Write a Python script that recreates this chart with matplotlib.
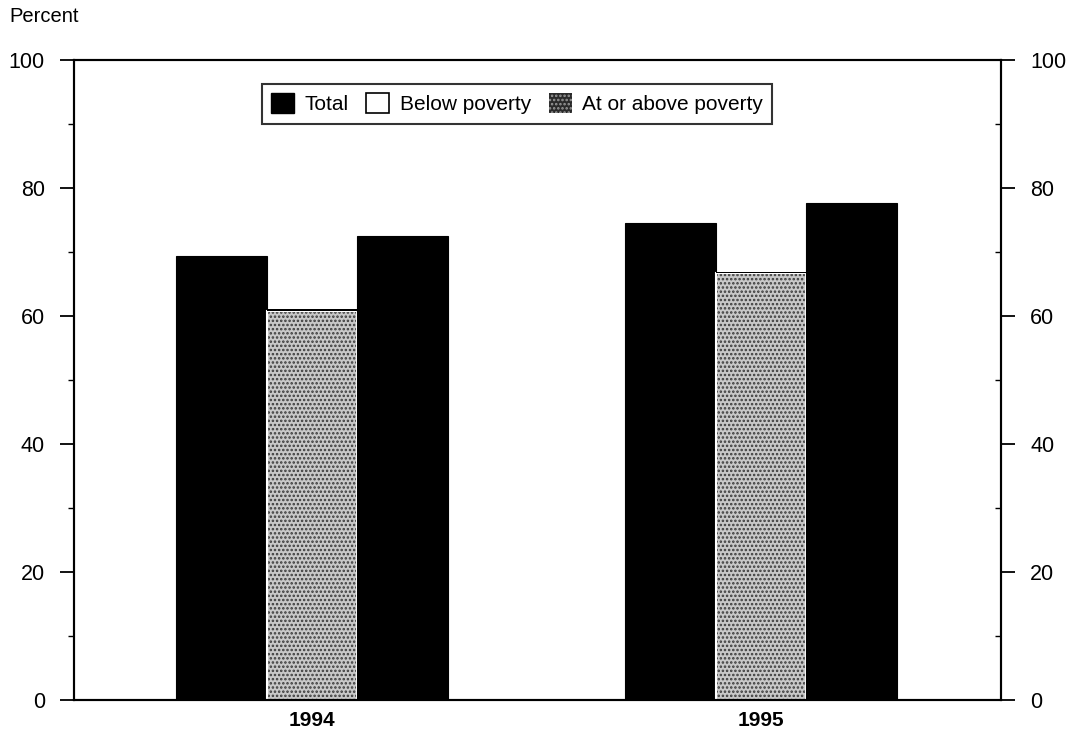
import numpy as np
import matplotlib
matplotlib.use('Agg')
import matplotlib.pyplot as plt
from matplotlib.patches import Patch
from matplotlib.ticker import MultipleLocator

plt.rcParams['font.family'] = ['Liberation Sans', 'DejaVu Sans']
plt.rcParams['hatch.linewidth'] = 1.2

years = ['1994', '1995']
series = ['Total', 'Below poverty', 'At or above poverty']
total = [69.4, 74.5]
below = [60.8, 66.7]
above = [72.5, 77.7]

fig = plt.figure(figsize=(10.69, 7.37), dpi=100)
ax = fig.add_axes([0.0692, 0.0502, 0.8672, 0.8684])

x = np.arange(len(years))
w = 0.2016

ax.bar(x - w, total, w, color='black', edgecolor='black', linewidth=0.8)
ax.bar(x, below, w, color='#c8c8c8', edgecolor='#3a3a3a', hatch='....', linewidth=0)
ax.bar(x, below, w, fill=False, edgecolor='white', linewidth=1.5)
ax.bar(x, [0.25] * 2, w, bottom=below, color='black', linewidth=0)
ax.bar(x + w, above, w, color='black', edgecolor='black', linewidth=0.8)

ax.set_xlim(-0.530, 1.534)
ax.set_ylim(0, 100)
ax.set_xticks(x)
ax.set_xticklabels(years, fontsize=15, fontweight='bold')
ax.tick_params(axis='x', length=0, pad=8)

ax2 = ax.twinx()
for a in (ax, ax2):
    a.set_ylim(0, 100)
    a.yaxis.set_major_locator(MultipleLocator(20))
    a.yaxis.set_minor_locator(MultipleLocator(10))
    for s in a.spines.values():
        s.set_linewidth(1.5)

ax.tick_params(axis='y', which='major', direction='out', length=10, width=1.3,
               labelsize=15.5, pad=11)
ax.tick_params(axis='y', which='minor', direction='out', length=4.5, width=1.0)
ax2.tick_params(axis='y', which='major', direction='out', length=10, width=1.3,
                labelsize=15.5, pad=11)
ax2.tick_params(axis='y', which='minor', direction='in', length=4, width=1.0)

fig.text(0.009, 0.978, 'Percent', fontsize=14.5, va='center', ha='left')

handles = [
    Patch(facecolor='black', edgecolor='black'),
    Patch(facecolor='white', edgecolor='black', linewidth=1.2),
    Patch(facecolor='#2a2a2a', edgecolor='#9a9a9a', hatch='....', linewidth=0),
]
leg = ax2.legend(handles, series, loc='upper center', bbox_to_anchor=(0.478, 0.963), ncol=3,
                 fontsize=15, frameon=True, fancybox=False, edgecolor='black',
                 handlelength=1.1, handleheight=1.1, handletextpad=0.5, columnspacing=0.85,
                 borderpad=0.45, borderaxespad=0)
leg.get_frame().set_linewidth(1.5)

fig.savefig('out.png', dpi=100)
